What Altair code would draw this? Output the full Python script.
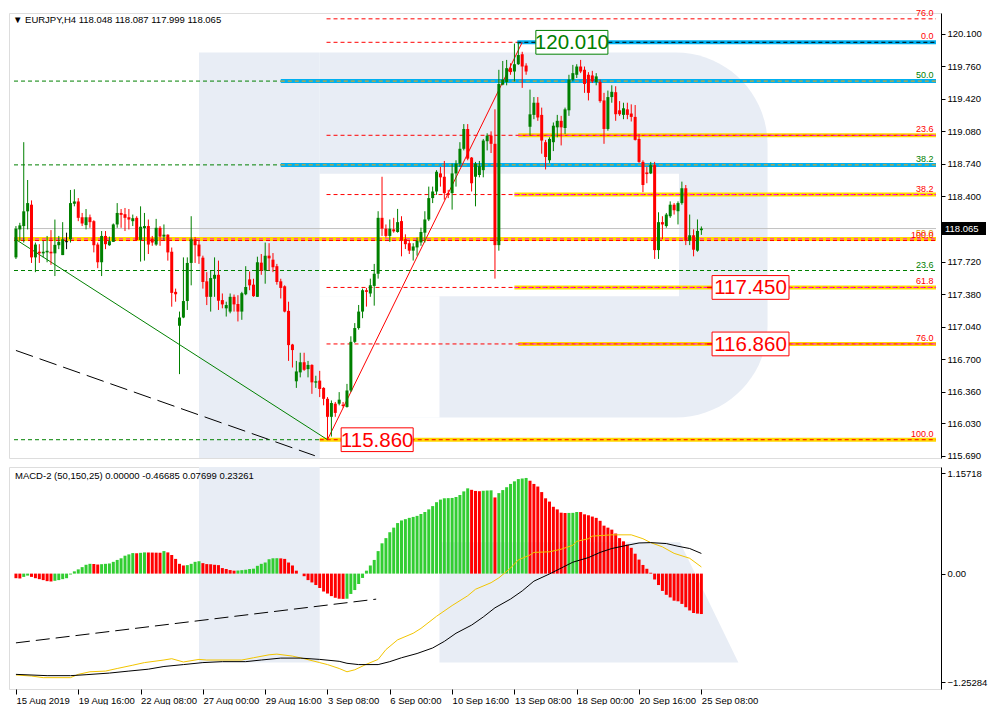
import altair as alt
import pandas as pd

W, H1, H2 = 932, 445, 222
XMIN, XMAX = -0.5, 236.25
PMIN, PMAX = 115.669, 120.316
MMIN, MMAX = -1.333, 1.2316
FONT = "Liberation Sans"

# ---------------- price candles (H4 bars, index 0..176) ----------------
opens = [117.764,118.056,118.091,118.245,118.314,117.764,117.823,117.806,117.816,117.823,
         117.806,117.891,117.788,117.933,117.953,118.324,118.348,118.183,118.101,118.183,
         118.142,117.898,117.713,117.988,117.891,117.926,118.108,118.228,118.215,118.183,
         118.142,118.177,117.946,118.070,118.091,117.960,117.898,118.073,117.981,118.001,
         117.823,117.404,117.050,117.136,117.308,117.706,117.953,117.898,117.761,117.514,
         117.352,117.541,117.582,117.318,117.232,117.198,117.352,117.277,117.198,117.379,
         117.534,117.479,117.352,117.709,117.627,117.782,117.740,117.672,117.514,117.462,
         117.205,116.854,116.470,116.563,116.669,116.597,116.641,116.456,116.477,116.401,
         116.287,116.099,116.236,116.236,116.226,116.202,116.374,116.882,117.026,117.198,
         117.421,117.387,117.466,117.593,118.177,118.064,117.988,118.057,118.029,118.143,
         117.954,117.912,117.834,117.868,117.920,118.022,118.160,118.383,118.452,118.641,
         118.606,118.435,118.435,118.641,118.744,118.898,119.105,118.806,118.606,118.624,
         118.675,118.977,119.036,118.950,117.892,119.568,119.596,119.740,119.705,119.781,
         119.884,119.767,119.128,119.252,119.379,119.252,118.967,118.778,118.967,119.122,
         119.190,119.115,119.300,119.620,119.671,119.757,119.723,119.671,119.664,119.596,
         119.596,119.403,119.105,119.438,119.489,119.300,119.252,119.310,119.266,119.231,
         119.001,118.761,118.651,118.641,118.727,117.840,118.132,118.091,118.194,118.314,
         118.246,118.331,118.486,117.937,117.995,117.834,118.048]
highs = [118.091,118.125,118.967,118.572,118.359,117.919,117.902,117.936,117.988,118.049,
         118.159,117.988,118.132,118.022,118.468,118.475,118.383,118.228,118.269,118.211,
         118.152,117.919,118.039,118.039,117.981,118.118,118.331,118.269,118.280,118.269,
         118.211,118.194,118.297,118.228,118.159,117.988,118.166,118.091,118.108,118.005,
         117.867,117.438,117.198,117.764,117.764,118.194,117.977,117.936,117.782,117.610,
         117.627,117.764,117.730,117.387,117.301,117.387,117.376,117.369,117.404,117.672,
         117.617,117.541,117.771,117.799,117.919,117.912,117.809,117.696,117.541,117.472,
         117.301,116.861,116.683,116.768,116.768,116.683,116.648,116.528,116.579,116.408,
         116.305,116.270,116.254,116.357,116.254,116.443,116.940,117.078,117.267,117.438,
         117.445,117.542,117.696,118.246,118.606,118.108,118.160,118.177,118.270,118.194,
         118.005,117.937,117.912,117.971,118.074,118.246,118.503,118.503,118.675,118.709,
         118.771,118.469,118.744,118.778,118.967,119.156,119.156,118.812,118.761,118.771,
         119.001,119.060,119.080,119.310,119.723,119.815,119.826,119.791,119.997,120.010,
         119.911,119.791,119.516,119.438,119.438,119.328,118.991,119.018,119.173,119.252,
         119.242,119.328,119.671,119.774,119.781,119.826,119.757,119.698,119.712,119.688,
         119.620,119.482,119.506,119.561,119.551,119.396,119.379,119.379,119.362,119.355,
         119.053,118.778,118.709,118.761,118.761,118.235,118.194,118.228,118.349,118.331,
         118.349,118.555,118.520,118.211,118.057,118.160,118.087]
lows = [117.747,117.936,117.919,118.056,117.706,117.610,117.706,117.764,117.713,117.686,
        117.569,117.850,117.788,117.850,117.919,118.297,118.142,118.091,118.056,118.073,
        117.816,117.651,117.569,117.850,117.885,117.926,118.073,118.073,118.039,118.056,
        118.091,117.936,117.720,117.730,117.799,117.885,117.885,117.885,117.943,117.730,
        117.249,117.301,116.545,117.129,117.215,117.472,117.706,117.696,117.438,117.266,
        117.198,117.352,117.215,117.232,117.146,117.180,117.198,117.095,117.112,117.369,
        117.421,117.352,117.352,117.582,117.489,117.627,117.610,117.479,117.335,117.190,
        116.683,116.614,116.401,116.511,116.579,116.511,116.339,116.401,116.305,116.219,
        115.860,115.893,116.099,116.219,116.195,116.195,116.357,116.870,117.009,117.129,
        117.250,117.352,117.260,117.542,117.988,117.971,117.926,118.022,118.022,117.775,
        117.851,117.799,117.731,117.782,117.885,117.920,118.143,118.331,118.417,118.503,
        118.366,118.383,118.263,118.503,118.709,118.881,118.778,118.452,118.297,118.600,
        118.600,118.881,118.854,117.542,117.834,119.561,119.561,119.671,119.602,119.774,
        119.534,119.671,119.036,119.207,119.190,118.847,118.682,118.751,118.874,119.018,
        118.933,119.053,119.242,119.602,119.637,119.688,119.482,119.403,119.585,119.561,
        119.379,118.950,119.087,119.379,119.190,119.242,119.207,119.207,119.183,118.984,
        118.751,118.445,118.538,118.634,117.748,117.748,117.954,118.074,118.177,118.211,
        118.108,118.314,117.892,117.892,117.775,117.823,117.999]
closes = [118.063,118.098,118.245,118.331,117.764,117.898,117.806,117.823,117.833,117.806,
          117.895,117.926,117.953,117.933,118.331,118.348,118.177,118.118,118.183,118.132,
          117.891,117.713,117.988,117.902,117.933,118.108,118.228,118.208,118.177,118.159,
          118.173,117.946,118.084,118.091,117.898,117.919,118.073,117.981,118.001,117.816,
          117.393,117.379,117.136,117.308,117.706,117.953,117.891,117.775,117.507,117.352,
          117.548,117.582,117.311,117.273,117.266,117.352,117.273,117.198,117.390,117.455,
          117.472,117.359,117.713,117.627,117.782,117.754,117.661,117.507,117.445,117.198,
          116.848,116.796,116.573,116.669,116.590,116.641,116.459,116.470,116.390,116.287,
          116.099,116.243,116.140,116.278,116.212,116.374,116.882,117.026,117.198,117.421,
          117.404,117.473,117.593,118.177,118.064,117.988,118.064,118.036,118.132,117.937,
          117.902,117.834,117.878,117.937,118.029,118.160,118.383,118.452,118.658,118.600,
          118.435,118.417,118.641,118.744,118.898,119.105,118.795,118.538,118.744,118.716,
          118.984,119.036,118.950,117.892,119.575,119.620,119.740,119.699,119.781,119.877,
          119.757,119.705,119.258,119.379,119.225,118.984,118.812,119.001,119.139,119.190,
          119.122,119.310,119.620,119.688,119.757,119.705,119.575,119.482,119.602,119.654,
          119.396,119.105,119.438,119.493,119.259,119.259,119.321,119.252,119.231,118.991,
          118.761,118.520,118.634,118.727,117.840,118.132,118.108,118.211,118.314,118.256,
          118.331,118.486,117.937,117.995,117.844,118.040,118.065]

# ---------------- MACD-2 histogram (one value per bar) ----------------
hist = [-0.053,-0.056,-0.038,-0.023,-0.038,-0.053,-0.064,-0.075,-0.087,-0.091,
        -0.083,-0.075,-0.064,-0.053,-0.010,0.026,0.049,0.075,0.102,0.113,
        0.111,0.105,0.109,0.113,0.117,0.136,0.158,0.177,0.207,0.222,
        0.237,0.235,0.240,0.245,0.244,0.243,0.242,0.241,0.260,0.245,
        0.215,0.170,0.113,0.094,0.098,0.113,0.136,0.143,0.121,0.110,
        0.108,0.102,0.098,0.064,0.053,0.041,0.034,0.036,0.040,0.045,
        0.053,0.057,0.090,0.113,0.128,0.166,0.177,0.178,0.176,0.170,
        0.128,0.094,0.034,0.000,-0.030,-0.075,-0.102,-0.132,-0.166,-0.207,
        -0.230,-0.260,-0.279,-0.290,-0.292,-0.290,-0.235,-0.190,-0.120,-0.050,
        0.034,0.094,0.158,0.260,0.350,0.410,0.478,0.531,0.584,0.614,
        0.629,0.644,0.655,0.667,0.689,0.712,0.742,0.780,0.825,0.855,
        0.870,0.872,0.874,0.885,0.908,0.950,0.985,0.968,0.955,0.952,
        0.957,0.960,0.962,0.880,0.930,0.965,0.998,1.036,1.066,1.092,
        1.100,1.105,1.073,1.036,1.006,0.942,0.870,0.832,0.772,0.742,
        0.704,0.700,0.701,0.702,0.712,0.711,0.685,0.674,0.659,0.644,
        0.610,0.554,0.531,0.508,0.463,0.410,0.373,0.335,0.298,0.230,
        0.162,0.100,0.056,0.010,-0.068,-0.132,-0.200,-0.245,-0.275,-0.313,
        -0.320,-0.350,-0.388,-0.426,-0.455,-0.462,-0.467]

# MACD signal lines (vertices: bar index, value)
yellow_x = [0,4,7,14,16,19,23,26,30,33,38,40,43,47,49,58,61,65,67,71,74,78,80,83,85,87,90,93,95,98,
            102,104,108,112,116,118,122,124,127,129,132,133,137,140,143,144,147,148,153,158,161,163,166,169,173,176]
yellow_v = [-1.171,-1.183,-1.202,-1.202,-1.164,-1.134,-1.126,-1.096,-1.058,-1.028,-0.998,-0.983,-1.021,-0.991,-0.998,
            -0.998,-0.972,-0.938,-0.930,-0.953,-0.983,-1.028,-1.051,-1.096,-1.134,-1.111,-1.047,-0.991,-0.878,-0.765,
            -0.689,-0.633,-0.493,-0.369,-0.256,-0.181,-0.105,-0.049,0.064,0.158,0.215,0.245,0.252,0.282,0.328,0.373,
            0.403,0.433,0.448,0.448,0.403,0.358,0.309,0.234,0.177,0.077]
black_x = [0,8,14,18,24,29,34,38,43,48,53,59,63,68,73,78,83,85,88,93,96,99,103,107,110,113,117,120,123,127,
           130,133,137,140,143,147,150,153,157,160,163,167,170,173,176]
black_v = [-1.164,-1.179,-1.179,-1.168,-1.149,-1.126,-1.104,-1.073,-1.051,-1.028,-1.017,-1.017,-0.998,-0.976,-0.976,
           -0.991,-1.013,-1.036,-1.051,-1.051,-1.017,-0.972,-0.923,-0.859,-0.783,-0.689,-0.595,-0.501,-0.395,-0.294,
           -0.200,-0.087,-0.004,0.064,0.132,0.185,0.245,0.290,0.328,0.354,0.358,0.347,0.316,0.290,0.233]
macd_trend_x = [0, 92.5]
macd_trend_v = [-0.80, -0.295]

# ---------------- drawn objects on price chart ----------------
green_trend = ([0, 80], [117.95, 115.86])
red_trend = ([80, 130], [115.86, 120.01])
black_trend = ([0, 76.75], [116.792, 115.693])
last_price = 118.065

# (price, first bar, last bar)
red_dash_lines = [(120.255, 79.75, XMAX), (120.01, 79.75, 128.75), (119.039, 79.75, XMAX),
                  (118.42, 79.75, XMAX), (117.45, 79.75, XMAX), (116.86, 79.75, XMAX),
                  (117.94, XMIN, XMAX), (115.86, 78, XMAX)]
green_dash_lines = [(119.605, XMIN, 68), (118.73, XMIN, 68), (117.627, XMIN, XMAX), (115.86, XMIN, 78)]
blue_bands = [(120.01, 128.75, XMAX), (119.605, 68, XMAX), (118.73, 68, XMAX)]
yellow_bands = [(119.039, 129, XMAX), (118.42, 128, XMAX), (117.957, XMIN, XMAX),
                (117.45, 128, XMAX), (116.86, 129, XMAX), (115.86, 78, XMAX)]
black_dash_lines = [(120.01, 128.75, XMAX)]
orange_dash_lines = [(119.605, 68, XMAX), (118.73, 68, XMAX)]
magenta_dash_lines = [(119.039, 129, XMAX), (118.42, 128, XMAX), (117.957, XMIN, XMAX),
                      (117.45, 128, XMAX), (116.86, 129, XMAX)]

fib_text = ["76.0", "0.0", "50.0", "23.6", "38.2", "38.2", "50.0", "100.0", "23.6", "61.8", "76.0", "100.0"]
fib_price = [120.255, 120.01, 119.605, 119.039, 118.73, 118.42, 117.957, 117.94, 117.627, 117.45, 116.86, 115.86]
fib_color = ["red", "red", "green", "red", "green", "red", "orange", "red", "green", "red", "red", "red"]

box_text = ["120.010", "117.450", "116.860", "115.860"]
box_price = [120.01, 117.45, 116.86, 115.86]
box_x0 = [133.5, 178.75, 178.75, 83.5]
box_x1 = [152.0, 198.5, 198.5, 102.0]
box_color = ["green", "red", "red", "red"]

x_ticks = [0, 16, 32, 48, 64, 80, 96, 112, 128, 144, 160, 176]
x_labels = ["15 Aug 2019", "19 Aug 16:00", "22 Aug 08:00", "27 Aug 00:00", "29 Aug 16:00", "3 Sep 08:00",
            "6 Sep 00:00", "10 Sep 16:00", "13 Sep 08:00", "18 Sep 00:00", "20 Sep 16:00", "25 Sep 08:00"]
price_ticks = [115.69, 116.03, 116.36, 116.70, 117.04, 117.38, 117.72, 118.40, 118.74, 119.08, 119.42, 119.76, 120.10]
macd_ticks = [1.15718, 0.0, -1.25284]

header = "\u25BC EURJPY,H4  118.048 118.087 117.999 118.065"
macd_header = "MACD-2 (50,150,25) 0.00000 -0.46685 0.07699 0.23261"

# watermark (R logo), in data coordinates
wm_main = pd.DataFrame({"x0": [47, 78, 78, 78], "x1": [78, 193, 170.25, 108.75],
                        "y0": [PMIN, 116.092, 117.359, 116.092], "y1": [119.904, 119.904, 118.637, 117.359],
                        "part": ["stem", "bowl", "hole", "hole"]})
wm_leg = pd.DataFrame({"i": [108.75, 170.5, 185.5], "top": [0.3616, 0.3616, -1.028], "bot": [-1.028, -1.028, -1.028]})
wm_macd_stem = pd.DataFrame({"x0": [47], "x1": [78], "y0": [-1.028], "y1": [MMAX]})
WM = "#e8edf5"

HEX = {"red": "#ff0000", "green": "#008000", "orange": "#e0a000", "black": "#000000",
       "lime": "#32cd32"}

# ---------------- scales / axes ----------------
XS = alt.Scale(domain=[XMIN, XMAX], nice=False, zero=False)
YS = alt.Scale(domain=[PMIN, PMAX], nice=False, zero=False)
MS = alt.Scale(domain=[MMIN, MMAX], nice=False, zero=False)

yaxis = alt.Axis(orient="right", values=price_ticks, format=".3f", title=None, grid=False, tickSize=4,
                 labelPadding=2, labelFontSize=9.5, labelFont=FONT, domainColor="black",
                 tickColor="black", labelColor="black")
maxis = alt.Axis(orient="right", values=macd_ticks, title=None, grid=False, tickSize=4, labelPadding=2,
                 labelFontSize=9.5, labelFont=FONT, domainColor="black", tickColor="black", labelColor="black",
                 labelExpr="datum.value == 0 ? '0.00' : format(datum.value, '.5f')")
lab_js = "[" + ",".join("'%s'" % s for s in x_labels) + "]"
xaxis = alt.Axis(values=x_ticks, title=None, grid=False, tickSize=5, labelPadding=1, labelAlign="left",
                 labelFontSize=9.5, labelFont=FONT, labelColor="black", tickColor="black", domain=False,
                 labelOverlap=False, labelFlush=False, labelExpr=lab_js + "[round(datum.value/16)]")


def PX(f):
    return alt.X(f, type="quantitative", scale=XS, axis=None)


def PY(f):
    return alt.Y(f, type="quantitative", scale=YS, axis=yaxis)


def MX(f):
    return alt.X(f, type="quantitative", scale=XS, axis=xaxis)


def MY(f):
    return alt.Y(f, type="quantitative", scale=MS, axis=maxis)


def RAW(f):
    # colour column holds literal colours: no shared colour scale
    return alt.Color(f, type="nominal", scale=None, legend=None)


def hlines(rows):
    return pd.DataFrame({"p": [r[0] for r in rows], "x0": [r[1] for r in rows], "x1": [r[2] for r in rows]})


# ---------------- main price panel ----------------
layers = []
layers.append(alt.Chart(wm_main[wm_main.part == "stem"]).mark_rect(color=WM).encode(
    x=PX("x0"), x2="x1", y=PY("y0"), y2="y1"))
layers.append(alt.Chart(wm_main[wm_main.part == "bowl"]).mark_rect(
    color=WM, cornerRadiusTopRight=92, cornerRadiusBottomRight=92).encode(
    x=PX("x0"), x2="x1", y=PY("y0"), y2="y1"))
layers.append(alt.Chart(wm_main[wm_main.part == "hole"]).mark_rect(color="white").encode(
    x=PX("x0"), x2="x1", y=PY("y0"), y2="y1"))

lp = pd.DataFrame({"p": [last_price], "x0": [XMIN], "x1": [XMAX]})
layers.append(alt.Chart(lp).mark_rule(color="#c0c0c0", strokeWidth=1).encode(x=PX("x0"), x2="x1", y=PY("p")))

layers.append(alt.Chart(hlines(green_dash_lines)).mark_rule(color="#008000", strokeWidth=1, strokeDash=[4, 3]).encode(
    x=PX("x0"), x2="x1", y=PY("p")))
layers.append(alt.Chart(hlines(blue_bands)).mark_rule(color="#00b0f0", strokeWidth=4).encode(
    x=PX("x0"), x2="x1", y=PY("p")))
layers.append(alt.Chart(hlines(yellow_bands)).mark_rule(color="#ffd700", strokeWidth=4).encode(
    x=PX("x0"), x2="x1", y=PY("p")))
layers.append(alt.Chart(hlines(red_dash_lines)).mark_rule(color="#ff0000", strokeWidth=1, strokeDash=[4, 3]).encode(
    x=PX("x0"), x2="x1", y=PY("p")))
layers.append(alt.Chart(hlines(black_dash_lines)).mark_rule(color="#000000", strokeWidth=1, strokeDash=[4, 3]).encode(
    x=PX("x0"), x2="x1", y=PY("p")))
layers.append(alt.Chart(hlines(orange_dash_lines)).mark_rule(color="#ffa500", strokeWidth=1, strokeDash=[4, 3]).encode(
    x=PX("x0"), x2="x1", y=PY("p")))
layers.append(alt.Chart(hlines(magenta_dash_lines)).mark_rule(color="#ff00ff", strokeWidth=1, strokeDash=[4, 3]).encode(
    x=PX("x0"), x2="x1", y=PY("p")))

for (xs, ps), col, dash in [(green_trend, "#008000", None), (red_trend, "#ff0000", None),
                            (black_trend, "#000000", [18, 7])]:
    d = pd.DataFrame({"i": xs, "p": ps})
    kw = dict(color=col, strokeWidth=1)
    if dash:
        kw["strokeDash"] = dash
    layers.append(alt.Chart(d).mark_line(**kw).encode(x=PX("i"), y=PY("p")))

cdf = pd.DataFrame({"i": list(range(len(opens))), "o": opens, "h": highs, "l": lows, "c": closes})
cdf["col"] = [HEX["green"] if c > o else (HEX["red"] if c < o else HEX["black"]) for o, c in zip(opens, closes)]
cdf["bt"] = cdf[["o", "c"]].max(axis=1)
cdf["bb"] = pd.concat([cdf[["o", "c"]].min(axis=1), cdf["bt"] - 0.01], axis=1).min(axis=1)
layers.append(alt.Chart(cdf).mark_rule(strokeWidth=1).encode(x=PX("i"), y=PY("h"), y2="l", color=RAW("col")))
layers.append(alt.Chart(cdf).mark_bar(size=3).encode(x=PX("i"), y=PY("bt"), y2="bb", color=RAW("col")))

fdf = pd.DataFrame({"t": fib_text, "p": fib_price, "col": [HEX[c] for c in fib_color],
                    "i": [235.6] * len(fib_text)})
layers.append(alt.Chart(fdf).mark_text(align="right", baseline="bottom", dy=-1, fontSize=9, font=FONT).encode(
    x=PX("i"), y=PY("p"), text="t:N", color=RAW("col")))

bdf = pd.DataFrame({"t": box_text, "p": box_price, "x0": box_x0, "x1": box_x1,
                    "col": [HEX[c] for c in box_color]})
bdf["top"] = bdf["p"] + 0.124
bdf["bot"] = bdf["p"] - 0.124
bdf["xm"] = (bdf["x0"] + bdf["x1"]) / 2
conn = bdf[bdf.col == HEX["red"]].iloc[:2].copy()
conn["c0"] = conn["x0"] - 1.25
layers.append(alt.Chart(conn).mark_rule(color="#ff0000", strokeWidth=1.5).encode(x=PX("c0"), x2="x0", y=PY("p")))
layers.append(alt.Chart(bdf).mark_rect(fill="white", strokeWidth=1).encode(
    x=PX("x0"), x2="x1", y=PY("top"), y2="bot",
    stroke=alt.Stroke("col", type="nominal", scale=None, legend=None)))
layers.append(alt.Chart(bdf).mark_text(fontSize=20.5, font=FONT, baseline="middle", dy=1).encode(
    x=PX("xm"), y=PY("p"), text="t:N", color=RAW("col")))

tag = pd.DataFrame({"p": [last_price], "t": ["%.3f" % last_price]})
tag["top"] = tag["p"] + 0.068
tag["bot"] = tag["p"] - 0.068
layers.append(alt.Chart(tag).mark_rect(color="black").encode(
    x=alt.value(W + 1), x2=alt.value(W + 45), y=PY("top"), y2="bot"))
layers.append(alt.Chart(tag).mark_text(color="white", align="left", baseline="middle", fontSize=9.5, font=FONT).encode(
    x=alt.value(W + 4), y=PY("p"), text="t:N"))

hd = pd.DataFrame({"t": [header]})
layers.append(alt.Chart(hd).mark_text(align="left", baseline="middle", fontSize=9.5, font=FONT, color="black").encode(
    x=alt.value(4), y=alt.value(7), text="t:N"))

main = alt.layer(*layers).properties(width=W, height=H1)

# ---------------- MACD panel ----------------
hdf = pd.DataFrame({"i": list(range(len(hist))), "v": hist})
cols = [HEX["red"]]
for k in range(1, len(hist)):
    cols.append(HEX["lime"] if hist[k] >= hist[k - 1] else HEX["red"])
hdf["col"] = cols
hdf["zero"] = 0.0

mlayers = []
mlayers.append(alt.Chart(wm_macd_stem).mark_rect(color=WM).encode(x=MX("x0"), x2="x1", y=MY("y0"), y2="y1"))
mlayers.append(alt.Chart(wm_leg).mark_area(color=WM).encode(x=MX("i"), y=MY("top"), y2="bot"))
mlayers.append(alt.Chart(hdf).mark_bar(size=3).encode(
    x=MX("i"), y=MY("v"), y2="zero", color=RAW("col")))
mlayers.append(alt.Chart(pd.DataFrame({"i": macd_trend_x, "v": macd_trend_v})).mark_line(
    color="black", strokeWidth=1, strokeDash=[14, 6]).encode(x=MX("i"), y=MY("v")))
mlayers.append(alt.Chart(pd.DataFrame({"i": yellow_x, "v": yellow_v})).mark_line(
    color="#f2c500", strokeWidth=1).encode(x=MX("i"), y=MY("v")))
mlayers.append(alt.Chart(pd.DataFrame({"i": black_x, "v": black_v})).mark_line(
    color="black", strokeWidth=1).encode(x=MX("i"), y=MY("v")))
mlayers.append(alt.Chart(pd.DataFrame({"t": [macd_header]})).mark_text(
    align="left", baseline="middle", fontSize=9.5, font=FONT, color="black").encode(
    x=alt.value(6), y=alt.value(9), text="t:N"))

macd = alt.layer(*mlayers).properties(width=W, height=H2)

chart = alt.vconcat(main, macd, spacing=5).properties(
    padding={"left": 0, "top": 0, "right": 0, "bottom": 0}
).configure_view(stroke="black", strokeWidth=1).configure(background="white")

chart.save("out.html", embed_options={"renderer": "svg", "actions": False})
